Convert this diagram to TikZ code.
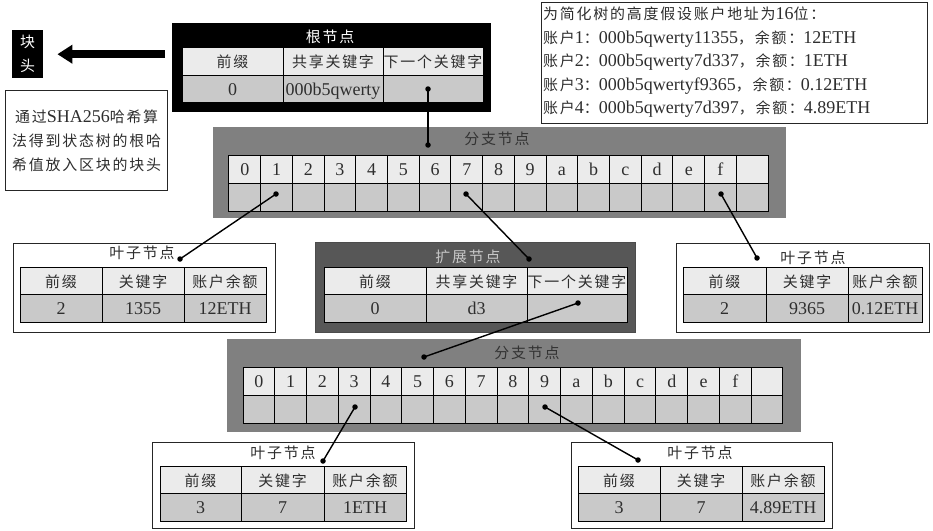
\documentclass[tikz,border=0pt]{standalone}
\usepackage{fontspec}
\setmainfont{Liberation Serif}
\newfontfamily\cjk[Scale=0.83,LetterSpace=12]{Noto Sans CJK SC}
\usetikzlibrary{arrows.meta,calc}
\definecolor{hdr}{gray}{0.92}
\definecolor{val}{gray}{0.79}
\definecolor{brg}{gray}{0.5}
\definecolor{exg}{gray}{0.34}
\definecolor{txt}{gray}{0.18}
\begin{document}
\begin{tikzpicture}[x=1pt,y=-1pt,
  every node/.style={font=\fontsize{18}{20}\selectfont, text=txt},
  cell/.style={draw=black, line width=1pt, inner sep=0pt, text height=12pt, text depth=0pt},
  hc/.style={cell, fill=hdr, minimum height=27.5pt},
  vc/.style={cell, fill=val, minimum height=27.5pt},
  bc/.style={cell, minimum width=31.73pt, minimum height=28pt},
  box/.style={draw=black!85, line width=1.1pt, fill=white, inner sep=0pt, anchor=north west},
  panel/.style={inner sep=0pt, anchor=north west},
  conn/.style={line width=1.4pt, black},
  dot/.style={circle, fill=black, inner sep=0pt, minimum size=5.5pt},
]
\useasboundingbox (0,0) rectangle (933,530);
\fill[white] (0,0) rectangle (933,530);

% block head
\node[panel, fill=black, minimum width=31pt, minimum height=48pt] (bh) at (12,30) {};
\node[text=white, align=center, font=\fontsize{18}{24}\selectfont] (bht) at (bh.center) {{\cjk 块}\\{\cjk 头}};

% description
\node[box, line width=1.3pt, minimum width=162pt, minimum height=100pt] (desc) at (5,90) {};
\node[align=center, font=\fontsize{18}{24}\selectfont] (desct) at (desc.center) {{\cjk 通过}SHA256{\cjk 哈希算}\\{\cjk 法得到状态树的根哈}\\{\cjk 希值放入区块的块头}};

% info box
\node[box, line width=1.3pt, minimum width=386pt, minimum height=121pt] (info) at (541,2) {};
\node[anchor=north west, align=left, inner sep=0pt, font=\fontsize{18}{23.5}\selectfont] (infot) at (543,7) {%
{\cjk 为简化树的高度假设账户地址为}16{\cjk 位：}\\
{\cjk 账户}1{\cjk ：}000b5qwerty11355{\cjk ，余额：}12ETH\\
{\cjk 账户}2{\cjk ：}000b5qwerty7d337{\cjk ，余额：}1ETH\\
{\cjk 账户}3{\cjk ：}000b5qwertyf9365{\cjk ，余额：}0.12ETH\\
{\cjk 账户}4{\cjk ：}000b5qwerty7d397{\cjk ，余额：}4.89ETH};

% root node
\node[panel, fill=black, minimum width=319pt, minimum height=89pt] (root) at (172,23) {};
\node[text=white] (roott) at (330,37) {\cjk 根节点};
\foreach \k/\xa/\xb/\h/\v in {1/182/283/{\cjk 前缀}/0, 2/283/383/{\cjk 共享关键字}/000b5qwerty, 3/383/483/{\cjk 下一个关键字}/{}} {
  \node[hc, minimum width={\xb-\xa}] (rh\k) at ({(\xa+\xb)/2},61.5) {\h};
  \node[vc, minimum width={\xb-\xa}] (rv\k) at ({(\xa+\xb)/2},89) {\v};
}
\draw[line width=8pt, -{Triangle[length=15pt,width=18pt]}] ($(root.west |- bh.east)+(-7,0)$) -- ($(bh.east)+(14,0)$);

% branch node 1
\node[panel, fill=brg, minimum width=573pt, minimum height=91pt] (br1) at (213,127) {};
\node[text=black!80] (br1t) at (497,139) {\cjk 分支节点};
\foreach \i/\l in {0/0,1/1,2/2,3/3,4/4,5/5,6/6,7/7,8/8,9/9,10/a,11/b,12/c,13/d,14/e,15/f,16/{}} {
  \node[bc, fill=hdr] (b1h\i) at ({229+31.706*(\i+0.5)},169) {\l};
  \node[bc, fill=val] (b1v\i) at ({229+31.706*(\i+0.5)},197) {};
}

% leaf 1
\node[box, minimum width=262pt, minimum height=89pt] (lf1) at (13,243) {};
\node (lf1t) at (142,253) {\cjk 叶子节点};
\foreach \k/\xa/\xb/\h/\v in {1/20/102/{\cjk 前缀}/2, 2/102/184/{\cjk 关键字}/1355, 3/184/266/{\cjk 账户余额}/12ETH} {
  \node[hc, minimum width={\xb-\xa}] (l1h\k) at ({(\xa+\xb)/2},281) {\h};
  \node[vc, minimum width={\xb-\xa}] (l1v\k) at ({(\xa+\xb)/2},308.5) {\v};
}

% extension node
\node[panel, fill=exg, draw=black!70, line width=0.8pt, minimum width=320pt, minimum height=90pt] (ext) at (315,242) {};
\node[text=gray!45] (extt) at (468,257) {\cjk 扩展节点};
\foreach \k/\xa/\xb/\h/\v in {1/324/426/{\cjk 前缀}/0, 2/426/527/{\cjk 共享关键字}/d3, 3/527/627/{\cjk 下一个关键字}/{}} {
  \node[hc, minimum width={\xb-\xa}] (eh\k) at ({(\xa+\xb)/2},281) {\h};
  \node[vc, minimum width={\xb-\xa}] (ev\k) at ({(\xa+\xb)/2},308.5) {\v};
}

% leaf 3 (right)
\node[box, minimum width=253pt, minimum height=89pt] (lf3) at (676,243) {};
\node (lf3t) at (813,258) {\cjk 叶子节点};
\foreach \k/\xa/\xb/\h/\v in {1/683/766/{\cjk 前缀}/2, 2/766/848/{\cjk 关键字}/9365, 3/848/922/{\cjk 账户余额}/0.12ETH} {
  \node[hc, minimum width={\xb-\xa}] (l3h\k) at ({(\xa+\xb)/2},281) {\h};
  \node[vc, minimum width={\xb-\xa}] (l3v\k) at ({(\xa+\xb)/2},308.5) {\v};
}

% branch node 2
\node[panel, fill=brg, minimum width=574pt, minimum height=93pt] (br2) at (227,339) {};
\node[text=black!80] (br2t) at (527,353) {\cjk 分支节点};
\foreach \i/\l in {0/0,1/1,2/2,3/3,4/4,5/5,6/6,7/7,8/8,9/9,10/a,11/b,12/c,13/d,14/e,15/f,16/{}} {
  \node[bc, fill=hdr] (b2h\i) at ({243+31.76*(\i+0.5)},381.5) {\l};
  \node[bc, fill=val] (b2v\i) at ({243+31.76*(\i+0.5)},409) {};
}

% leaf 4 (bottom left)
\node[box, minimum width=262pt, minimum height=86pt] (lf4) at (152,442) {};
\node (lf4t) at (283,453) {\cjk 叶子节点};
\foreach \k/\xa/\xb/\h/\v in {1/160/241/{\cjk 前缀}/3, 2/241/324/{\cjk 关键字}/7, 3/324/406/{\cjk 账户余额}/1ETH} {
  \node[hc, minimum width={\xb-\xa}] (l4h\k) at ({(\xa+\xb)/2},480.5) {\h};
  \node[vc, minimum width={\xb-\xa}] (l4v\k) at ({(\xa+\xb)/2},507.5) {\v};
}

% leaf 5 (bottom right)
\node[box, minimum width=261pt, minimum height=86pt] (lf5) at (571,442) {};
\node (lf5t) at (700,453) {\cjk 叶子节点};
\foreach \k/\xa/\xb/\h/\v in {1/578/660/{\cjk 前缀}/3, 2/660/742/{\cjk 关键字}/7, 3/742/824/{\cjk 账户余额}/4.89ETH} {
  \node[hc, minimum width={\xb-\xa}] (l5h\k) at ({(\xa+\xb)/2},480.5) {\h};
  \node[vc, minimum width={\xb-\xa}] (l5v\k) at ({(\xa+\xb)/2},507.5) {\v};
}

% dots
\node[dot] (rd) at (428,89) {};
\node[dot] (b1td) at (428,145) {};
\node[dot] (b1d1) at (276,194) {};
\node[dot] (b1d7) at (466,194) {};
\node[dot] (b1df) at (721,194) {};
\node[dot] (lf1d) at (180,259) {};
\node[dot] (extd) at (529,259) {};
\node[dot] (lf3d) at (757,258) {};
\node[dot] (extvd) at (578,303) {};
\node[dot] (b2td) at (424,357) {};
\node[dot] (b2d3) at (355,407) {};
\node[dot] (b2d9) at (545,407) {};
\node[dot] (lf4d) at (323,461) {};
\node[dot] (lf5d) at (638,460) {};

% connectors
\draw[conn] (rd.center) -- (b1td.center);
\draw[conn] (b1d1.center) -- (lf1d.center);
\draw[conn] (b1d7.center) -- (extd.center);
\draw[conn] (b1df.center) -- (lf3d.center);
\draw[conn] (extvd.center) -- (b2td.center);
\draw[conn] (b2d3.center) -- (lf4d.center);
\draw[conn] (b2d9.center) -- (lf5d.center);
\end{tikzpicture}
\end{document}
